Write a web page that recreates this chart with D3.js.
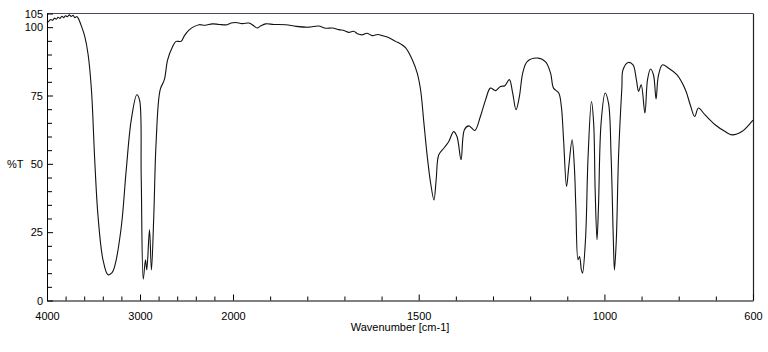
<!DOCTYPE html>
<html><head><meta charset="utf-8">
<script src="https://cdn.jsdelivr.net/npm/d3@7"></script>
<style>
body{margin:0;background:#fff;}
svg text{font-family:"Liberation Sans",Arial,sans-serif;font-size:11px;fill:#000;}
</style></head>
<body><svg id="c" width="768" height="352"></svg>
<script>
const wavenumber = [4000,3980,3960,3940,3920,3900,3880,3860,3840,3820,3800,3780,3760,3740,3720,3700,3680,3665,3629,3594,3558,3522,3487,3451,3398,3344,3300,3273,3201,3148,3094,3034,3005,2987,2965,2941,2927,2898,2877,2852,2827,2784,2738,2703,2649,2613,2559,2520,2471,2420,2364,2300,2221,2150,2061,2020,1993,1975,1957,1945,1935,1925,1912,1890,1858,1830,1796,1770,1750,1733,1715,1700,1688,1675,1665,1652,1640,1625,1610,1598,1580,1562,1548,1535,1517,1504,1495,1486,1477,1468,1459,1453,1446,1432,1419,1406,1397,1386,1377,1365,1349,1334,1320,1307,1293,1280,1268,1256,1247,1238,1229,1220,1208,1181,1159,1145,1137,1123,1116,1110,1102,1096,1087,1081,1077,1071,1067,1062,1059,1051,1044,1035,1029,1025,1020,1016,1009,998,989,982,976,973,968,962,953,950,936,923,914,908,901,891,884,876,868,861,855,844,827,805,782,769,757,747,729,702,675,657,630,603,600];
const transmittance = [101.5,102.2,102.8,102.5,103.3,102.9,103.6,103.2,104,103.5,104.2,103.8,104.5,103.9,104.3,103.5,103.9,103.3,100.3,96.6,90,77,51.5,30.7,14.9,9.4,10.2,12.4,27,47.8,66.1,75.3,73.4,45.4,7.8,14.9,11.2,25.9,11.2,30.7,57.7,77,80.8,88,92.9,94.8,94.8,97,99,100.2,100.9,100.7,101.2,101,100.9,101.5,101.7,101.3,101.5,100.6,99.7,100.5,101.2,101,100.9,100.3,100,100.4,99.6,99.7,99.1,98.7,98.1,98.5,97.6,97.2,97.8,96.9,97.3,96.9,96.1,94.8,93.8,92.4,88,83.2,77.1,64.9,52.7,43,36.8,44.2,53.3,55.8,58.2,61.8,60,51.5,62.5,63.9,62.2,67.3,73.4,77.7,76.8,78.3,78.6,80.8,75.9,69.8,74.6,83.2,87.4,88.7,87.4,83.2,77.7,75.9,71,58.8,41.7,49,58.8,49,34.4,14.9,16.1,11.2,10,22.2,52.7,72.8,64.9,40.5,22.2,34.4,64.9,75.9,72.2,52.7,22.2,11.2,22.2,52.7,78,84.4,87.1,86.2,80.8,76.5,78.9,68.6,80.8,84.7,82.6,73.7,82,86.2,85,82.6,77.1,71.6,67.3,70.4,67.9,64.3,61.8,60.6,61.8,65.5,66];
const xTickLabels = [4000,3000,2000,1500,1000,600];
const yTickLabels = [0,25,50,75,100,105];

const svg = d3.select("#c");
const x = d3.scaleLinear().domain([4000,2000,600]).range([47,233,753]);
const y = d3.scaleLinear().domain([0,105]).range([300.5,13.5]);

const xMinor = d3.range(3800,2000,-200).concat(d3.range(1900,600,-100)).filter(v=>!xTickLabels.includes(v));
const yMinor = d3.range(5,105,5).filter(v=>v%25!==0);

// frame
svg.append("line").attr("x1",47).attr("x2",753).attr("y1",13.5).attr("y2",13.5).attr("stroke","#4a4a6a").attr("stroke-width",1.2);
svg.append("line").attr("x1",753.5).attr("x2",753.5).attr("y1",13.5).attr("y2",300.5).attr("stroke","#222").attr("stroke-width",1.2);

const gx = svg.append("g").attr("transform","translate(0,300.5)");
gx.call(d3.axisBottom(x).tickValues(xTickLabels).tickSizeInner(-6).tickSizeOuter(0).tickPadding(12).tickFormat(d3.format("d")));
gx.append("g").call(d3.axisBottom(x).tickValues(xMinor).tickSizeInner(-4).tickSizeOuter(0).tickFormat(""));
gx.selectAll("g g .domain").remove();

const gy = svg.append("g").attr("transform","translate(47,0)");
gy.call(d3.axisLeft(y).tickValues(yTickLabels).tickSizeInner(-6).tickSizeOuter(0).tickPadding(4).tickFormat(d3.format("d")));
gy.append("g").call(d3.axisLeft(y).tickValues(yMinor).tickSizeInner(-5).tickSizeOuter(0).tickFormat(""));
gy.selectAll("g g .domain").remove();
svg.selectAll(".domain").attr("stroke","#000");
svg.selectAll(".tick line").attr("stroke","#000");
svg.selectAll(".tick text").style("font-size","11px");

svg.append("text").attr("x",7).attr("y",168).text("%T");
svg.append("text").attr("x",400).attr("y",331).attr("text-anchor","middle").text("Wavenumber [cm-1]");

const pts = wavenumber.map((w,i)=>[w,transmittance[i]]);
svg.append("path").datum(pts)
  .attr("d", d3.line().x(d=>x(d[0])).y(d=>y(d[1])).curve(d3.curveCatmullRom.alpha(0.5)))
  .attr("fill","none").attr("stroke","#111").attr("stroke-width",1.1);
</script></body></html>
